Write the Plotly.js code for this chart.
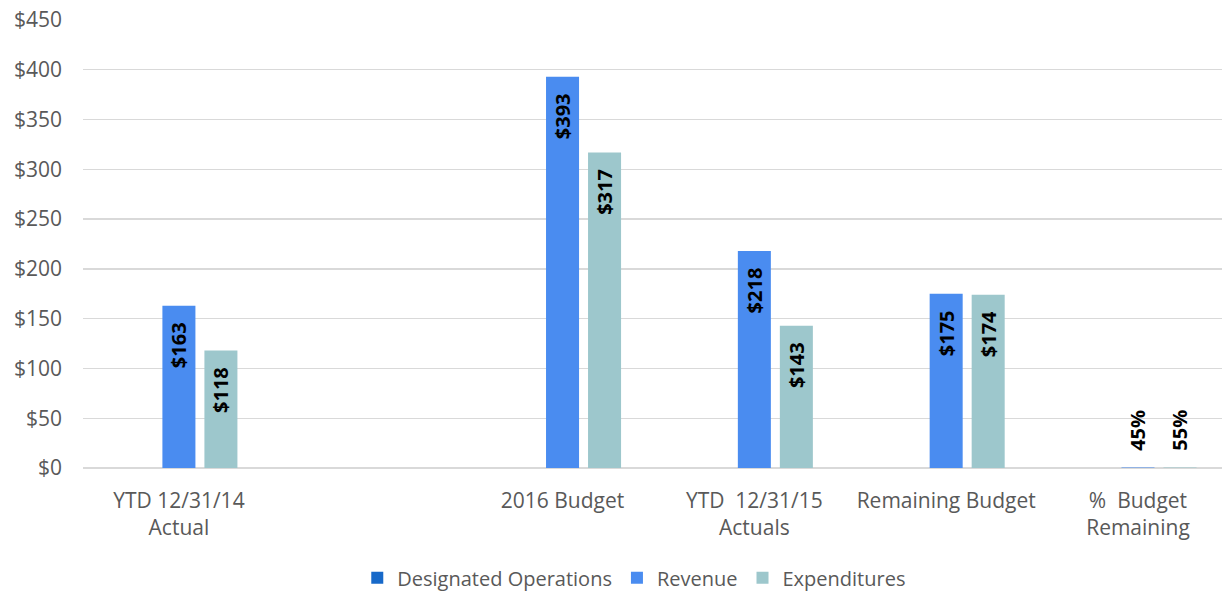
<!DOCTYPE html>
<html>
<head>
<meta charset="utf-8">
<script src="https://cdn.plot.ly/plotly-3.0.1.min.js"></script>
<style>html,body{margin:0;padding:0;background:#fff;overflow:hidden}</style>
</head>
<body>
<div id="chart" style="width:1222px;height:594px"></div>
<script>
const categories = ['YTD 12/31/14<br>Actual', ' ', '2016 Budget', 'YTD  12/31/15<br>Actuals', 'Remaining Budget', '%  Budget<br>Remaining'];
const designatedOps = [null, null, null, null, null, null];
const revenue = [163, null, 393, 218, 175, 0.45];
const expenditures = [118, null, 317, 143, 174, 0.55];
const revenueLabels = ['$163', '', '$393', '$218', '$175', '45%'];
const expenditureLabels = ['$118', '', '$317', '$143', '$174', '55%'];
const yTickVals = [0, 50, 100, 150, 200, 250, 300, 350, 400, 450];
const yTickText = ['$0', '$50', '$100', '$150', '$200', '$250', '$300', '$350', '$400', '$450'];

const NB = '\u00a0';
const labelPos = ['inside', 'inside', 'inside', 'inside', 'inside', 'outside'];
const inTpl = '%{text}' + NB + NB + '\u2009';
const outTpl = NB + NB + '\u2009' + '%{text}';
const labelTpl = [inTpl, inTpl, inTpl, inTpl, inTpl, outTpl];
const labelFont = {family: 'Open Sans, sans-serif', size: 20, color: '#000000', weight: 700};

const common = {
  type: 'bar', x: categories, textangle: -90, textposition: labelPos, texttemplate: labelTpl,
  insidetextanchor: 'end', constraintext: 'none', cliponaxis: false,
  textfont: labelFont, insidetextfont: labelFont, outsidetextfont: labelFont,
  hoverinfo: 'skip'
};

const data = [
  Object.assign({}, common, {name: 'Designated Operations', y: designatedOps, marker: {color: '#1769C9'}}),
  Object.assign({}, common, {name: 'Revenue', y: revenue, text: revenueLabels, marker: {color: '#4A8CF0'}}),
  Object.assign({}, common, {name: 'Expenditures', y: expenditures, text: expenditureLabels, marker: {color: '#9DC7CC'}})
];

const layout = {
  width: 1222, height: 594,
  margin: {l: 83, r: 0, t: 20, b: 126},
  paper_bgcolor: '#ffffff', plot_bgcolor: '#ffffff',
  barmode: 'group', bargap: 0.343, bargroupgap: 0.214,
  font: {family: 'Open Sans, sans-serif', size: 21, color: '#595959'},
  showlegend: true,
  legend: {orientation: 'h', x: 0.484, xanchor: 'center', xref: 'paper',
           yref: 'container', y: 0.06, yanchor: 'top',
           font: {size: 20, color: '#595959'}, traceorder: 'normal', itemwidth: 30},
  xaxis: {
    type: 'category', range: [-0.5, 5.438], showgrid: false, zeroline: false,
    showline: false, ticks: '', ticklabelstandoff: 18,
    tickfont: {size: 21, color: '#595959'}, fixedrange: true, automargin: false
  },
  yaxis: {
    range: [0, 450], tickvals: yTickVals, ticktext: yTickText,
    showgrid: true, gridcolor: '#D9D9D9', gridwidth: 1.3,
    zeroline: true, zerolinecolor: '#D9D9D9', zerolinewidth: 1.3,
    showline: false, ticks: '', ticklabelstandoff: 20,
    tickfont: {size: 21, color: '#595959'}, fixedrange: true, automargin: false
  }
};

Plotly.newPlot('chart', data, layout, {displayModeBar: false, staticPlot: true});
</script>
</body>
</html>
